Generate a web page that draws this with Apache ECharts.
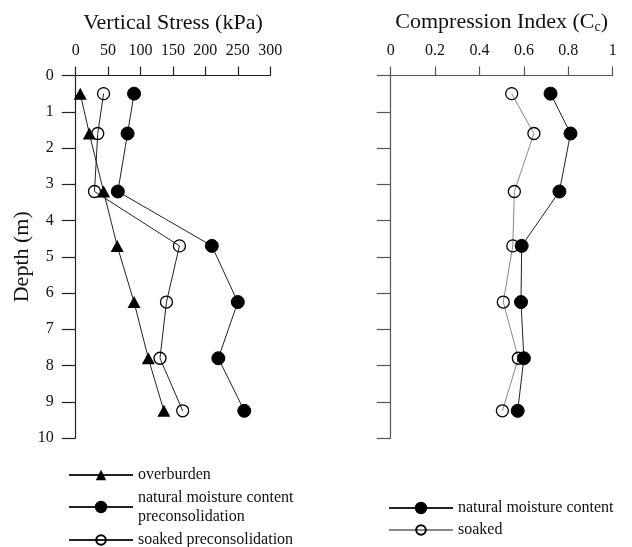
<!DOCTYPE html>
<html>
<head>
<meta charset="utf-8">
<script src="https://cdn.jsdelivr.net/npm/echarts@6/dist/echarts.min.js"></script>
<style>
  html, body { margin: 0; padding: 0; background: #fff; }
  #chart { width: 632px; height: 547px; }
</style>
</head>
<body>
<div id="chart"></div>
<script>
// Sample depths (m)
var depths = [0.5, 1.6, 3.2, 4.7, 6.25, 7.8, 9.25];

// Vertical stress profiles (kPa)
var overburden = [7, 21, 43, 64, 90, 112, 136];
var naturalPreconsolidation = [90, 80, 65, 210, 250, 220, 260];
var soakedPreconsolidation = [43, 34, 29, 160, 140, 130, 165];

// Compression index profiles
var ccNatural = [0.72, 0.81, 0.76, 0.59, 0.587, 0.60, 0.572];
var ccSoaked = [0.545, 0.645, 0.557, 0.55, 0.507, 0.575, 0.503];

// Axis ticks
var stressTicks = { min: 0, max: 300, interval: 50 };
var ccTicks = { min: 0, max: 1, interval: 0.2 };
var depthTicks = { min: 0, max: 10, interval: 1 };

function pairs(xs, ys) {
  return xs.map(function (x, i) { return [x, ys[i]]; });
}

var FONT = '"Liberation Serif", "Times New Roman", serif';
var INK = '#111';

var chart = echarts.init(document.getElementById('chart'), null, { renderer: 'canvas' });

function topAxis(gridIndex, ticks, name, axisColor, extra) {
  return Object.assign({
    type: 'value',
    gridIndex: gridIndex,
    position: 'top',
    min: ticks.min,
    max: ticks.max,
    interval: ticks.interval,
    name: name,
    nameLocation: 'middle',
    nameGap: 41,
    nameTextStyle: { fontFamily: FONT, fontSize: 22, color: INK },
    axisLine: { show: true, onZero: false, lineStyle: { color: axisColor, width: 1.2 } },
    axisTick: { show: true, inside: false, length: 9, lineStyle: { color: axisColor, width: 1.2 } },
    axisLabel: { show: true, margin: 17, fontFamily: FONT, fontSize: 16, color: INK },
    splitLine: { show: false }
  }, extra || {});
}

function depthAxis(gridIndex, showLabels, axisColor) {
  return {
    type: 'value',
    gridIndex: gridIndex,
    inverse: true,
    min: depthTicks.min,
    max: depthTicks.max,
    interval: depthTicks.interval,
    name: showLabels ? 'Depth (m)' : '',
    nameLocation: 'middle',
    nameGap: 42,
    nameRotate: 90,
    nameTextStyle: { fontFamily: FONT, fontSize: 22, color: INK },
    axisLine: { show: true, onZero: false, lineStyle: { color: axisColor, width: 1.2 } },
    axisTick: { show: true, inside: false, length: 14, lineStyle: { color: axisColor, width: 1.2 } },
    axisLabel: { show: showLabels, margin: 22, fontFamily: FONT, fontSize: 16, color: INK },
    splitLine: { show: false }
  };
}

var filledCircle = { color: '#000', borderColor: '#000', borderWidth: 1 };
var openCircle = { color: 'rgba(255,255,255,0)', borderColor: '#000', borderWidth: 1.3 };

function legendBox(left, top, names, extra) {
  return Object.assign({
    left: left, top: top, padding: 0, itemWidth: 64, itemHeight: 12, itemGap: 0,
    textStyle: { fontFamily: FONT, fontSize: 16, color: INK },
    data: names
  }, extra || {});
}

var option = {
  animation: false,
  backgroundColor: '#fff',
  textStyle: { fontFamily: FONT },
  grid: [
    { left: 75.7, top: 75.5, width: 194.5, height: 362.5 },
    { left: 390.7, top: 75.5, width: 222, height: 362.5 }
  ],
  xAxis: [
    topAxis(0, stressTicks, 'Vertical Stress (kPa)', '#222'),
    topAxis(1, ccTicks, '{a|Compression Index (C}{s|c}{a|)}', '#555', {
      nameTextStyle: {
        fontFamily: FONT, fontSize: 22, color: INK,
        rich: {
          a: { fontFamily: FONT, fontSize: 22, color: INK },
          s: { fontFamily: FONT, fontSize: 14, color: INK, padding: [10, 0, 0, 0] }
        }
      },
      axisLabel: {
        show: true, margin: 17, fontFamily: FONT, fontSize: 16, color: INK,
        formatter: function (v) { return v === 0 || v === 1 ? String(v) : v.toFixed(1); }
      }
    })
  ],
  yAxis: [depthAxis(0, true, '#222'), depthAxis(1, false, '#555')],
  legend: [
    legendBox(68, 467, ['overburden'], { itemHeight: 13 }),
    legendBox(68, 488, ['natural moisture content preconsolidation'], {
      itemHeight: 13,
      textStyle: { fontFamily: FONT, fontSize: 16, color: INK, lineHeight: 19 },
      formatter: function () { return 'natural moisture content\npreconsolidation'; }
    }),
    legendBox(68, 532, ['soaked preconsolidation']),
    legendBox(388, 500, ['natural moisture content'], { itemHeight: 13 }),
    legendBox(388, 522, ['soaked'])
  ],
  series: [
    {
      name: 'overburden', type: 'line', xAxisIndex: 0, yAxisIndex: 0,
      data: pairs(overburden, depths),
      symbol: 'triangle', symbolSize: [13, 12],
      itemStyle: { color: '#000' },
      lineStyle: { color: '#222', width: 1 }
    },
    {
      name: 'natural moisture content preconsolidation', type: 'line', xAxisIndex: 0, yAxisIndex: 0,
      data: pairs(naturalPreconsolidation, depths),
      symbol: 'circle', symbolSize: 13,
      itemStyle: filledCircle,
      lineStyle: { color: '#222', width: 1 }
    },
    {
      name: 'soaked preconsolidation', type: 'line', xAxisIndex: 0, yAxisIndex: 0,
      data: pairs(soakedPreconsolidation, depths),
      symbol: 'circle', symbolSize: 12,
      itemStyle: openCircle,
      lineStyle: { color: '#222', width: 1 }
    },
    {
      name: 'natural moisture content', type: 'line', xAxisIndex: 1, yAxisIndex: 1,
      data: pairs(ccNatural, depths),
      symbol: 'circle', symbolSize: 13,
      itemStyle: filledCircle,
      lineStyle: { color: '#222', width: 1 }
    },
    {
      name: 'soaked', type: 'line', xAxisIndex: 1, yAxisIndex: 1,
      data: pairs(ccSoaked, depths),
      symbol: 'circle', symbolSize: 12,
      itemStyle: openCircle,
      lineStyle: { color: '#888', width: 1 }
    }
  ]
};

chart.setOption(option);
</script>
</body>
</html>
